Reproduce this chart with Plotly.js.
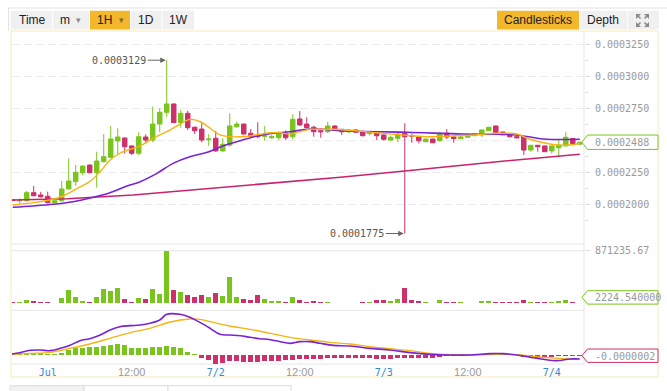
<!DOCTYPE html>
<html><head><meta charset="utf-8">
<script src="https://cdn.plot.ly/plotly-3.0.1.min.js"></script>
<style>html,body{margin:0;padding:0;background:#fff;}#chart{width:667px;height:391px;}</style>
</head><body><div id="chart"></div>
<script>
// ---------- DATA ----------
// hours from 7/1 00:00 (1H candles)
const hours = [-5,-4,-3,-2,-1,0,1,2,3,4,5,6,7,8,9,10,11,12,13,14,15,16,17,18,19,20,21,22,23,24,25,26,27,28,29,30,31,32,33,34,35,36,37,38,39,40,41,42,43,44,45,46,47,48,49,50,51,52,53,54,55,56,57,58,59,60,61,62,63,64,65,66,67,68,69,70,71,72,73,74,75,76];
const openP = [2038e-7,2030e-7,2031e-7,2094e-7,2076e-7,2066e-7,2016e-7,2031e-7,2123e-7,2180e-7,
 2250e-7,2310e-7,2250e-7,2336e-7,2370e-7,2498e-7,2521e-7,2459e-7,2402e-7,2529e-7,
 2505e-7,2630e-7,2722e-7,2787e-7,2641e-7,2714e-7,2605e-7,2591e-7,2508e-7,2519e-7,
 2420e-7,2466e-7,2609e-7,2630e-7,2558e-7,2545e-7,2534e-7,2523e-7,2523e-7,2558e-7,
 2531e-7,2670e-7,2630e-7,2605e-7,2578e-7,2570e-7,2615e-7,2589e-7,2570e-7,2584e-7,
 2570e-7,2555e-7,2568e-7,2545e-7,2505e-7,2519e-7,2558e-7,2540e-7,2529e-7,2492e-7,
 2513e-7,2500e-7,2558e-7,2529e-7,2516e-7,2527e-7,2539e-7,2545e-7,2578e-7,2615e-7,
 2568e-7,2555e-7,2531e-7,2531e-7,2427e-7,2464e-7,2459e-7,2420e-7,2445e-7,2459e-7,
 2517e-7,2473e-7];
const highP = [2044e-7,2050e-7,2107e-7,2146e-7,2100e-7,2102e-7,2035e-7,2185e-7,2362e-7,2310e-7,
 2305e-7,2312e-7,2414e-7,2552e-7,2615e-7,2597e-7,2525e-7,2462e-7,2566e-7,2550e-7,
 2766e-7,2753e-7,3129e-7,2790e-7,2740e-7,2734e-7,2610e-7,2636e-7,2550e-7,2576e-7,
 2519e-7,2714e-7,2650e-7,2632e-7,2591e-7,2644e-7,2615e-7,2545e-7,2575e-7,2580e-7,
 2706e-7,2732e-7,2683e-7,2617e-7,2595e-7,2648e-7,2620e-7,2592e-7,2590e-7,2588e-7,
 2580e-7,2572e-7,2570e-7,2548e-7,2540e-7,2566e-7,2636e-7,2555e-7,2531e-7,2515e-7,
 2515e-7,2570e-7,2591e-7,2531e-7,2545e-7,2548e-7,2558e-7,2586e-7,2608e-7,2617e-7,
 2570e-7,2562e-7,2555e-7,2533e-7,2466e-7,2466e-7,2461e-7,2461e-7,2505e-7,2566e-7,
 2519e-7,2492e-7];
const lowP = [2028e-7,2011e-7,2023e-7,2066e-7,2055e-7,2011e-7,2012e-7,2023e-7,2120e-7,2148e-7,
 2232e-7,2245e-7,2133e-7,2330e-7,2365e-7,2388e-7,2400e-7,2388e-7,2388e-7,2480e-7,
 2487e-7,2566e-7,2687e-7,2640e-7,2602e-7,2584e-7,2552e-7,2487e-7,2461e-7,2414e-7,
 2414e-7,2453e-7,2600e-7,2550e-7,2519e-7,2519e-7,2500e-7,2515e-7,2505e-7,2505e-7,
 2511e-7,2617e-7,2600e-7,2531e-7,2523e-7,2560e-7,2580e-7,2545e-7,2560e-7,2563e-7,
 2535e-7,2540e-7,2505e-7,2500e-7,2500e-7,2490e-7,1775e-7,2484e-7,2480e-7,2490e-7,
 2482e-7,2495e-7,2513e-7,2484e-7,2514e-7,2525e-7,2537e-7,2530e-7,2576e-7,2560e-7,
 2545e-7,2526e-7,2520e-7,2388e-7,2414e-7,2414e-7,2412e-7,2400e-7,2370e-7,2457e-7,
 2470e-7,2470e-7];
const closeP = [2034e-7,2033e-7,2094e-7,2070e-7,2062e-7,2016e-7,2031e-7,2123e-7,2185e-7,2253e-7,
 2302e-7,2250e-7,2341e-7,2375e-7,2513e-7,2529e-7,2453e-7,2402e-7,2531e-7,2505e-7,
 2630e-7,2722e-7,2787e-7,2641e-7,2714e-7,2602e-7,2578e-7,2505e-7,2513e-7,2420e-7,
 2472e-7,2615e-7,2630e-7,2552e-7,2531e-7,2531e-7,2539e-7,2531e-7,2558e-7,2523e-7,
 2667e-7,2623e-7,2602e-7,2570e-7,2570e-7,2615e-7,2584e-7,2570e-7,2584e-7,2566e-7,
 2539e-7,2568e-7,2539e-7,2511e-7,2526e-7,2552e-7,2531e-7,2536e-7,2500e-7,2513e-7,
 2484e-7,2555e-7,2529e-7,2516e-7,2529e-7,2545e-7,2555e-7,2584e-7,2605e-7,2562e-7,
 2547e-7,2531e-7,2523e-7,2427e-7,2464e-7,2453e-7,2414e-7,2459e-7,2466e-7,2527e-7,
 2478e-7,2488e-7];
const volume = [17000,28000,55000,33000,28000,28000,11000,89000,222000,111000,
 39000,28000,111000,239000,211000,255000,72000,28000,89000,78000,
 239000,161000,871235.67,222000,189000,139000,105000,139000,105000,172000,
 122000,439000,105000,72000,50000,139000,72000,39000,39000,22000,
 105000,55000,28000,39000,22000,22000,11000,11000,11000,11000,
 17000,22000,55000,55000,39000,72000,255000,50000,33000,22000,
 11000,55000,28000,22000,17000,11000,11000,33000,33000,28000,
 22000,17000,17000,55000,28000,22000,22000,22000,39000,50000,
 22000,2224.54];
// moving averages (hour, price)
const maFastH = [-5,-2.1,0.3,2.2,4.2,6,7.5,8.9,10.3,11.8,13.2,14.6,16,17.5,18.9,20.3,21.8,23.2,24.6,26,27.5,28.9,30.3,31.8,33.2,34.6,36,37.5,38.9,40.8,42.5,47,51.3,54.6,57.5,60.8,64.2,67,68.9,70.8,72.8,74.6,76];
const maFastV = [1998e-7,2016e-7,2037e-7,2068e-7,2128e-7,2180e-7,2258e-7,2349e-7,2402e-7,2433e-7,2459e-7,2505e-7,2545e-7,2584e-7,2630e-7,2667e-7,2648e-7,2597e-7,2545e-7,2531e-7,2531e-7,2537e-7,2550e-7,2562e-7,2562e-7,2552e-7,2570e-7,2589e-7,2589e-7,2589e-7,2584e-7,2562e-7,2542e-7,2531e-7,2537e-7,2545e-7,2558e-7,2552e-7,2511e-7,2484e-7,2466e-7,2466e-7,2480e-7];
const maMidH = [-5,-2.1,0.8,3.6,6.5,8.9,11.3,13.2,15.6,17.9,20.3,22.8,25,27.5,29.9,32.2,34.6,37,39.3,41.8,45,51.3,59.3,64.2,67,70.8,76];
const maMidV = [1980e-7,1990e-7,2003e-7,2023e-7,2058e-7,2094e-7,2146e-7,2180e-7,2245e-7,2323e-7,2375e-7,2409e-7,2459e-7,2500e-7,2537e-7,2558e-7,2570e-7,2589e-7,2589e-7,2578e-7,2572e-7,2566e-7,2552e-7,2550e-7,2545e-7,2513e-7,2511e-7];
const maSlowH = [-5,2.8,12.2,21.8,31.3,41.8,51,64.2,76];
const maSlowV = [2037e-7,2047e-7,2076e-7,2120e-7,2167e-7,2214e-7,2263e-7,2336e-7,2394e-7];
// MACD (units of 1e-7)
const difH = [-5.1,-4,-2.5,-1.1,0.3,1.8,3.2,4.6,6,7.5,8.9,10.3,11.8,13.2,14.6,16,17,18.9,20.3,21.8,23.2,24.6,26,27.5,28.9,30.3,31.8,33.2,34.6,36,37.5,38.9,40.8,43.2,46,48.9,51.8,54.6,57.5,60.3,63.2,65,67,68.9,70.8,72.8,74.6,76];
const difV = [1.5,3.5,7,7.5,6.5,10,14.5,21.5,24.5,30,37.5,42.5,44,45,47.5,52.5,61,61,56.5,48.5,40,31,30,29,26.5,24.5,23,20,17.5,20,20,17.5,14.5,13.5,10,7.5,3.5,1,0,0,2,2,0,-3.5,-6.5,-8.5,-6,-6];
const deaH = [-5.1,-2.5,0.3,3.2,6,8.9,11.8,14.6,17.5,20.3,21.8,23.2,26,28.9,31.8,34.6,37.5,40.3,43.2,46,48.9,51.8,54.6,57.5,60.8,64.2,67,68.9,71.3,73.6,75.6];
const deaV = [1,2.5,4,10,16.5,25,33.5,40,49.5,54,53.5,50,43.5,38.5,32.5,26.5,22.5,19,16.5,12.5,9.5,6.5,2.5,0.5,0,1,0.5,-1.5,-4,-5.5,-6];
const macdHist = [2.5,2.5,3.5,3.5,2.5,2,2,3.5,7.5,10,
 11,11.5,12.5,13,15.5,16,14.5,11,11,10.5,
 11.5,12.5,13.5,11.5,10,5,1,-5,-7.5,-13.5,
 -12.5,-8.5,-9,-10,-10,-10,-9.5,-8.5,-8.5,-7.5,
 -7.5,-6.5,-5.5,-6.5,-5.5,-4.5,-4.5,-4.5,-4.5,-5,
 -5,-5,-5.5,-6.5,-6.5,-5,-4.5,-4.5,-4.5,-5,
 -4.5,-2.5,-2,-1,-0.5,0.2,1,1.5,1.5,1.5,
 1,0.5,-0.5,-2.5,-3.5,-4,-3.5,-2.5,-2,-1.5,
 -1.5,-2];
const tickHours = [0,12,24,36,48,60,72];
const tickLabels = ['Jul','12:00','7/2','12:00','7/3','12:00','7/4'];
const isDateTick = [true,false,true,false,true,false,true];
const priceTicks = [0.0002,0.000225,0.000275,0.0003,0.000325];
const hiddenTick = 0.00025; // gridline only; its label sits under the price tag
const maxLabel = '0.0003129', minLabel = '0.0001775';
const priceTag = '0.0002488', volTag = '2224.540000', macdTag = '-0.0000002';
const toolbarLeft = ['Time','m','1H','1D','1W'];
const toolbarRight = ['Candlesticks','Depth'];

// ---------- STYLE / LAYOUT ----------
const W=667,H=391;
const fx=x=>x/W, fy=y=>1-y/H;
const dom=(t,b)=>[1-b/H,1-t/H];
const G='#7ac51d', R='#cd306b', YEL='#f7b30f', PUR='#7a22d6', CRIM='#c8236c';
const pTop=0.00033336, pBot=0.0001693;
const priceDom=[34,244], volDom=[250.7,303.3], macdDom=[310.3,364];

const traces = [
 {type:'candlestick', x:hours, open:openP, high:highP, low:lowP, close:closeP, xaxis:'x', yaxis:'y',
  increasing:{line:{color:G,width:1},fillcolor:G}, decreasing:{line:{color:R,width:1},fillcolor:R},
  whiskerwidth:0, hoverinfo:'skip'},
 {type:'scatter', mode:'lines', x:maSlowH, y:maSlowV, line:{color:CRIM,width:1.6}, yaxis:'y'},
 {type:'scatter', mode:'lines', x:maMidH, y:maMidV, line:{color:PUR,width:1.6,shape:'spline'}, yaxis:'y'},
 {type:'scatter', mode:'lines', x:maFastH, y:maFastV, line:{color:YEL,width:1.4,shape:'spline'}, yaxis:'y'},
 {type:'bar', x:hours, y:volume, width:0.72, yaxis:'y2',
  marker:{color:closeP.map((c,i)=>c>=openP[i]?G:R)}},
 {type:'bar', x:hours, y:macdHist, width:0.72, yaxis:'y3',
  marker:{color:macdHist.map(v=>v>=0?G:R)}},
 {type:'scatter', mode:'lines', x:deaH, y:deaV, line:{color:YEL,width:1.4,shape:'spline'}, yaxis:'y3'},
 {type:'scatter', mode:'lines', x:difH, y:difV, line:{color:PUR,width:1.6,shape:'spline'}, yaxis:'y3'}
];

const shapes=[];
const line=(x0,y0,x1,y1,c,w)=>shapes.push({type:'line',xref:'paper',yref:'paper',x0:fx(x0),y0:fy(y0),x1:fx(x1),y1:fy(y1),line:{color:c,width:w||1},layer:'below'});
const rect=(x0,y0,x1,y1,fill,lc,layer)=>shapes.push({type:'rect',xref:'paper',yref:'paper',x0:fx(x0),y0:fy(y0),x1:fx(x1),y1:fy(y1),fillcolor:fill,line:{color:lc||'rgba(0,0,0,0)',width:lc?1:0},layer:layer||'below'});
// outer frame
line(8.5,8,667,8,'#e3e3e3');
line(8.5,8,8.5,31,'#e3e3e3');
// toolbar
const leftBoxes=[[10.6,52],[53,89],[90,130],[130.8,161.5],[162.3,194]];
leftBoxes.forEach((b,i)=>rect(b[0],10.7,b[1],29.5,i===2?'#f3b72c':'#f0f0f0'));
rect(497,10.7,579,29.5,'#f3b72c');
rect(579.8,10.7,627,29.5,'#f0f0f0');
rect(627.8,10.7,659,29.5,'#f0f0f0');
// expand icon
const tri=(pts)=>shapes.push({type:'path',xref:'paper',yref:'paper',path:'M '+pts.map(p=>fx(p[0])+' '+fy(p[1])).join(' L ')+' Z',fillcolor:'#8a8a8a',line:{width:0},layer:'above'});
tri([[636,14],[641,14],[636,19]]);tri([[649,14],[644,14],[649,19]]);
tri([[636,27],[641,27],[636,22]]);tri([[649,27],[644,27],[649,22]]);
[[637,15,640.5,18.5],[648,15,644.5,18.5],[637,26,640.5,22.5],[648,26,644.5,22.5]].forEach(s=>
 shapes.push({type:'line',xref:'paper',yref:'paper',x0:fx(s[0]),y0:fy(s[1]),x1:fx(s[2]),y1:fy(s[3]),line:{color:'#8a8a8a',width:1.6},layer:'above'}));
// chart frame
rect(11,31,658,377,'rgba(0,0,0,0)','#f4eab6');
// panel separators
[244,250.7,310.3,364].forEach(y=>line(12,y,584,y,'#e6e6e6'));
line(584,31,584,364,'#e6e6e6');
// gridline under the price tag (no label there)
shapes.push({type:'line',xref:'paper',yref:'y',x0:fx(12),x1:fx(589),y0:hiddenTick,y1:hiddenTick,line:{color:'#ebebeb',width:1,dash:'8px,4px'},layer:'below'});
// bottom tabs
rect(10,385.7,84,392,'#f2f2f2','#dcdcdc');
rect(84,385.7,168,392,'#ffffff','#dcdcdc');
rect(168,385.7,291,392,'#ffffff','#dcdcdc');
// value tags
const tag=(yc,h,col)=>shapes.push({type:'path',xref:'paper',yref:'paper',
 path:`M ${fx(582)} ${fy(yc)} L ${fx(587.5)} ${fy(yc-h)} L ${fx(658)} ${fy(yc-h)} L ${fx(658)} ${fy(yc+h)} L ${fx(587.5)} ${fy(yc+h)} Z`,
 fillcolor:'#ffffff',line:{color:col,width:1},layer:'above'});
const lastClose=closeP[closeP.length-1];
const priceY=priceDom[0]+(pTop-lastClose)/(pTop-pBot)*(priceDom[1]-priceDom[0]);
tag(priceY,7.2,G);
tag(297.4,6.7,G);
tag(355.7,6.7,R);

const mono='DejaVu Sans Mono';
const ann=[];
const txt=(x,y,t,o)=>ann.push(Object.assign({xref:'paper',yref:'paper',x:fx(x),y:fy(y),text:t,showarrow:false,
 font:{family:'Liberation Sans, Arial',size:12,color:'#222'},xanchor:'center',yanchor:'middle'},o||{}));
const tcx=[32,65,104,146,178];
toolbarLeft.forEach((t,i)=>txt(tcx[i],20.2,t));
txt(78,20.5,'▾',{font:{family:'DejaVu Sans',size:9,color:'#8a8a8a'}});
txt(121,20.5,'▾',{font:{family:'DejaVu Sans',size:9,color:'#7a6a3a'}});
txt(538,20.2,toolbarRight[0]);
txt(603,20.2,toolbarRight[1]);
// max / min markers
const iMax=highP.indexOf(Math.max(...highP)), iMin=lowP.indexOf(Math.min(...lowP));
ann.push({xref:'x',yref:'y',x:hours[iMax],y:highP[iMax],text:maxLabel,showarrow:true,ax:-19,ay:0,xanchor:'right',
 arrowhead:2,arrowsize:1.1,arrowwidth:1,arrowcolor:'#666',standoff:1,font:{family:mono,size:10,color:'#555'}});
ann.push({xref:'x',yref:'y',x:hours[iMin],y:lowP[iMin],text:minLabel,showarrow:true,ax:-19,ay:0,xanchor:'right',
 arrowhead:2,arrowsize:1.1,arrowwidth:1,arrowcolor:'#666',standoff:1,font:{family:mono,size:10,color:'#555'}});
// tag texts
txt(592.5,priceY,priceTag,{xanchor:'left',font:{family:mono,size:10,color:'#999'}});
txt(592.5,297.6,volTag,{xanchor:'left',font:{family:mono,size:10,color:'#999'}});
txt(592.5,356,macdTag,{xanchor:'left',font:{family:mono,size:10,color:'#999'}});

const ticktext = tickLabels.map((t,i)=>isDateTick[i]
 ? `<span style="font-family:DejaVu Sans Mono;color:#2a8ad8;font-size:10px">${t}</span>` : t);

const layout={
 width:W,height:H,margin:{l:0,r:0,t:0,b:0},paper_bgcolor:'#fff',plot_bgcolor:'#fff',
 showlegend:false,hovermode:false,dragmode:false,boxgap:0.36,boxgroupgap:0,bargap:0,
 xaxis:{domain:[fx(12),fx(584)],range:[-5.1,76.6],anchor:'y3',showgrid:false,zeroline:false,showline:false,
  tickmode:'array',tickvals:tickHours,ticktext:ticktext,ticks:'',tickfont:{family:'Liberation Sans, Arial',size:11,color:'#9a9a9a'},
  rangeslider:{visible:false},fixedrange:true},
 yaxis:{domain:dom(...priceDom),range:[pBot,pTop],side:'right',anchor:'x',tickmode:'array',tickvals:priceTicks,tickformat:'.7f',
  tickfont:{family:mono,size:10,color:'#999'},ticks:'outside',ticklen:5,tickcolor:'#dddddd',
  showgrid:true,gridcolor:'#ebebeb',griddash:'8px,4px',zeroline:false,showline:false,ticklabelstandoff:3,
  minor:{tickmode:'array',tickvals:[0.0001875,0.0002125,0.0002375,0.0002625,0.0002875,0.0003125],ticks:'outside',ticklen:3,tickcolor:'#dddddd',showgrid:false},
  fixedrange:true},
 yaxis2:{domain:dom(...volDom),range:[0,871235.67],side:'right',anchor:'x',tickmode:'array',tickvals:[871235.67],ticktext:['871235.67'],
  tickfont:{family:mono,size:10,color:'#999'},ticks:'outside',ticklen:5,tickcolor:'#dddddd',showgrid:false,zeroline:false,showline:false,ticklabelstandoff:3,fixedrange:true},
 yaxis3:{domain:dom(...macdDom),range:[-13.5,67.05],side:'right',anchor:'x',showticklabels:false,ticks:'',showgrid:false,zeroline:false,showline:false,fixedrange:true},
 shapes:shapes,annotations:ann
};
Plotly.newPlot('chart',traces,layout,{staticPlot:true,displayModeBar:false});
</script></body></html>
